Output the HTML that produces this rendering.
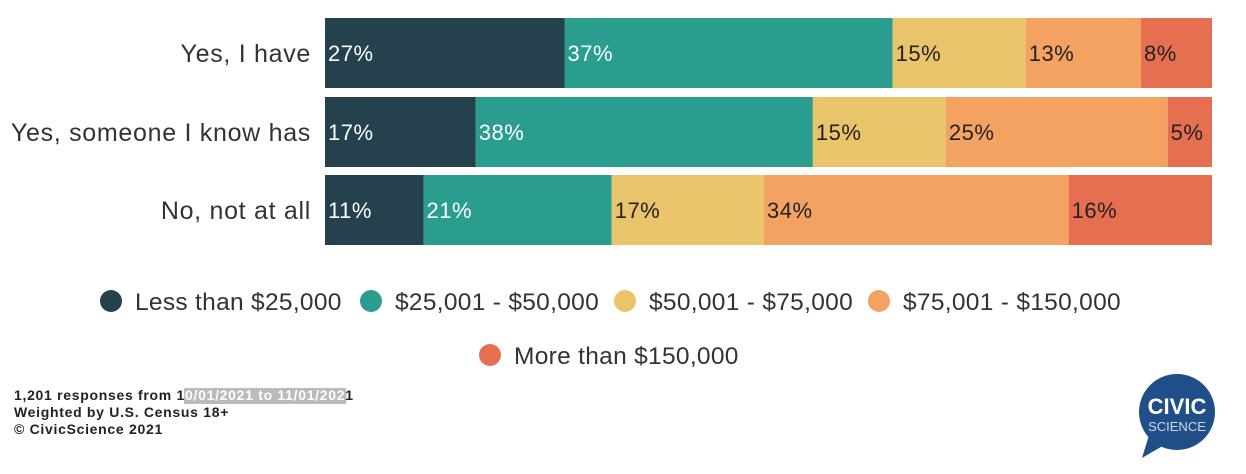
<!DOCTYPE html>
<html><head><meta charset="utf-8"><style>
body{margin:0;background:#fff;width:1246px;height:469px;overflow:hidden;font-family:"Liberation Sans",sans-serif}
</style></head><body>
<svg width="1246" height="469">
<g id="bars"></g>
<g id="legend"></g>
<g font-size="14" font-weight="bold" fill="#222" letter-spacing="0.7">
<rect id="hl" x="188" y="388" width="178" height="16" fill="#bbb"/>
<text id="fn1" x="14" y="400">1,201 responses from 1<tspan id="hlt" fill="#fff">0/01/2021 to 11/01/202</tspan>1</text>
<text x="14" y="417">Weighted by U.S. Census 18+</text>
<text x="14" y="434">© CivicScience 2021</text>
</g>
<g>
<circle cx="1177" cy="412" r="38" fill="#1f4e89"/>
<path d="M1150 432 L1142 458 L1166 444 Z" fill="#1f4e89"/>
<text x="1177" y="414" text-anchor="middle" fill="#fff" font-size="22" font-weight="bold">CIVIC</text>
<text x="1177" y="431" text-anchor="middle" fill="#cfd8e6" font-size="13">SCIENCE</text>
</g>
</svg>
<script>
const categories=["Yes, I have","Yes, someone I know has","No, not at all"];
const seriesNames=["Less than $25,000","$25,001 - $50,000","$50,001 - $75,000","$75,001 - $150,000","More than $150,000"];
const s1=[27,17,11];
const s2=[37,38,21];
const s3=[15,15,17];
const s4=[13,25,34];
const s5=[8,5,16];
const series=[s1,s2,s3,s4,s5];
const colors=["#26414e","#2a9d8f","#e9c46a","#f4a261","#e76f51"];
const NS="http://www.w3.org/2000/svg";
const x0=325,W=887,rowTop=[18,97,175],rowH=70;
function xs(v,total){return v/total*W;}
const bars=document.getElementById('bars');
function mk(t,a,p){const e=document.createElementNS(NS,t);for(const k in a)e.setAttribute(k,a[k]);p.appendChild(e);return e;}
categories.forEach((c,i)=>{
 const y=rowTop[i];
 const lab=mk('text',{x:311,y:y+rowH/2+9,'text-anchor':'end','font-size':25,'letter-spacing':0.7,fill:'#333'},bars);
 lab.textContent=c;
 
 
 const total=series.reduce((s,a)=>s+a[i],0);
 let x=x0;
 series.forEach((a,j)=>{
  const w=xs(a[i],total);
  const r=mk('rect',{x:x,y:y,width:w,height:rowH,fill:colors[j]},bars);
  
  
  const t=mk('text',{x:x+3,y:y+rowH/2+8,'font-size':22,'letter-spacing':0.5,fill:j<2?'#fff':'#222'},bars);
  t.textContent=a[i]+'%';
  
  
  x+=w;
 });
});
const lg=document.getElementById('legend');
const pos=[[111,301],[371,301],[625,301],[879,301],[490,355]];
seriesNames.forEach((n,j)=>{
 const g=mk('g',{},lg);
 
 
 mk('circle',{cx:pos[j][0],cy:pos[j][1],r:11,fill:colors[j]},g);
 const t=mk('text',{x:pos[j][0]+24,y:pos[j][1]+9,'font-size':24.5,'letter-spacing':0.3,fill:'#333'},g);
 t.textContent=n;
});
try{
 const fn=document.getElementById('fn1');
 const s=fn.getStartPositionOfChar(22).x, e=fn.getEndPositionOfChar(43).x;
 const hl=document.getElementById('hl');
 hl.setAttribute('x',s-1);hl.setAttribute('width',e-s+2);
}catch(err){}
</script>
</body></html>
